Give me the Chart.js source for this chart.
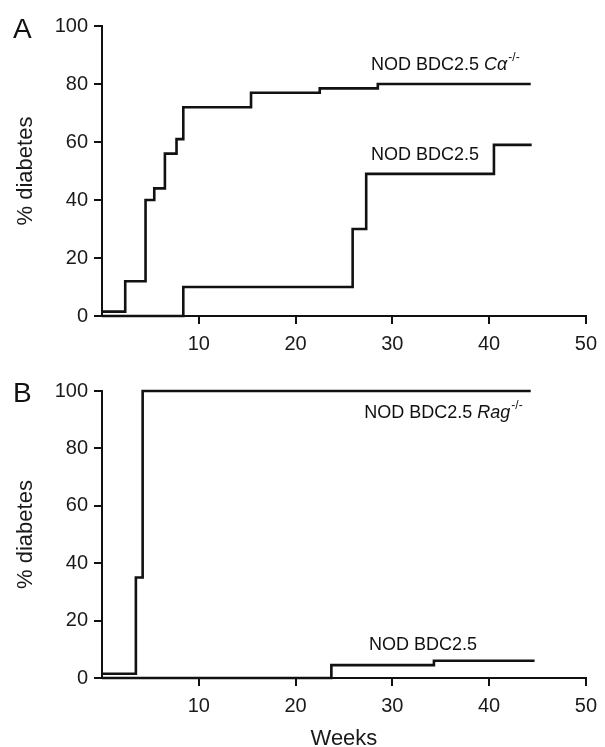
<!DOCTYPE html>
<html>
<head>
<meta charset="utf-8">
<script src="https://cdn.jsdelivr.net/npm/chart.js@4.4.0/dist/chart.umd.min.js"></script>
<style>
  body { margin: 0; background: #fff; overflow: hidden; }
  canvas { position: absolute; left: 0; }
</style>
</head>
<body>
<canvas id="chartA" style="top:0px" width="605" height="360"></canvas>
<canvas id="chartB" style="top:360px" width="605" height="392"></canvas>
<script>
// Panel A
const weeksCa = [0, 2.4, 4.5, 5.4, 6.5, 7.7, 8.4, 15.4, 22.5, 28.5, 44.3];
const pctCa = [1.5, 12, 40, 44, 56, 61, 72, 77, 78.5, 80, 80];
const weeksNodA = [0, 8.4, 25.9, 27.3, 40.5, 44.4];
const pctNodA = [0, 10, 30, 49, 59, 59];
// Panel B
const weeksRag = [0, 3.5, 4.2, 44.3];
const pctRag = [1.5, 35, 100, 100];
const weeksNodB = [0, 23.7, 34.3, 44.7];
const pctNodB = [0, 4.5, 6, 6];
// axes
const xTicks = [10, 20, 30, 40, 50];
const yTicks = [0, 20, 40, 60, 80, 100];

const FONT = '"Liberation Sans", Arial, sans-serif';
const INK = '#111';

function points(xs, ys) {
  return xs.map((w, i) => ({ x: w, y: ys[i] }));
}

function curve(xs, ys) {
  return {
    data: points(xs, ys),
    borderColor: INK,
    borderWidth: 2.6,
    stepped: true,
    pointRadius: 0,
    fill: false,
    clip: 5
  };
}

// draws curve names and the panel letter
const curveLabels = {
  id: 'curveLabels',
  afterDatasetsDraw(chart, args, opts) {
    const ctx = chart.ctx;
    const x = chart.scales.x, y = chart.scales.y;
    ctx.save();
    ctx.fillStyle = INK;
    ctx.textBaseline = 'middle';
    ctx.textAlign = 'left';
    opts.items.forEach(it => {
      let px = x.getPixelForValue(it.x);
      const py = y.getPixelForValue(it.y);
      ctx.font = '18px ' + FONT;
      ctx.fillText(it.text, px, py);
      px += ctx.measureText(it.text).width;
      if (it.italic) {
        ctx.font = 'italic 18px ' + FONT;
        ctx.fillText(it.italic, px, py);
        px += ctx.measureText(it.italic).width;
      }
      if (it.sup) {
        ctx.font = '12px ' + FONT;
        ctx.fillText(it.sup, px + 1, py - 7);
      }
    });
    ctx.font = '28px ' + FONT;
    ctx.fillText(opts.letter, 13, opts.letterY);
    ctx.restore();
  }
};

function makeChart(id, datasets, labels, letter, letterY, padTop, xHeight, showTitle) {
  return new Chart(document.getElementById(id), {
    type: 'line',
    data: { datasets: datasets },
    options: {
      responsive: false,
      animation: false,
      layout: { padding: { top: padTop, right: 11, left: 0, bottom: 0 } },
      plugins: {
        legend: { display: false },
        tooltip: { enabled: false },
        curveLabels: { items: labels, letter: letter, letterY: letterY }
      },
      scales: {
        x: {
          type: 'linear',
          min: 0,
          max: 50,
          afterBuildTicks: s => { s.ticks = xTicks.map(v => ({ value: v })); },
          afterFit: s => { s.height = xHeight; },
          grid: { drawOnChartArea: false, drawTicks: true, tickLength: 8, color: INK, lineWidth: 2 },
          border: { color: INK, width: 2 },
          ticks: { color: '#1a1a1a', padding: 8, font: { family: FONT, size: 20 } },
          title: {
            display: showTitle,
            text: 'Weeks',
            color: '#1a1a1a',
            font: { family: FONT, size: 22 },
            padding: { top: 15, bottom: 0 }
          }
        },
        y: {
          min: 0,
          max: 100,
          afterBuildTicks: s => { s.ticks = yTicks.map(v => ({ value: v })); },
          afterFit: s => { s.width = 102; },
          grid: { drawOnChartArea: false, drawTicks: true, tickLength: 8, color: INK, lineWidth: 2 },
          border: { color: INK, width: 2 },
          ticks: { color: '#1a1a1a', padding: 6, font: { family: FONT, size: 20 } },
          title: {
            display: true,
            text: '% diabetes',
            color: '#1a1a1a',
            font: { family: FONT, size: 22 },
            padding: { top: 13, bottom: 0 }
          }
        }
      }
    },
    plugins: [curveLabels]
  });
}

makeChart('chartA',
  [curve(weeksCa, pctCa), curve(weeksNodA, pctNodA)],
  [
    { x: 27.8, y: 86.5, text: 'NOD BDC2.5 ', italic: 'C\u03b1', sup: '-/-' },
    { x: 27.8, y: 55.5, text: 'NOD BDC2.5' }
  ],
  'A', 30, 26, 44, false);

makeChart('chartB',
  [curve(weeksRag, pctRag), curve(weeksNodB, pctNodB)],
  [
    { x: 27.1, y: 92.3, text: 'NOD BDC2.5 ', italic: 'Rag', sup: '-/-' },
    { x: 27.6, y: 11.5, text: 'NOD BDC2.5' }
  ],
  'B', 34, 31, 74, true);
</script>
</body>
</html>
